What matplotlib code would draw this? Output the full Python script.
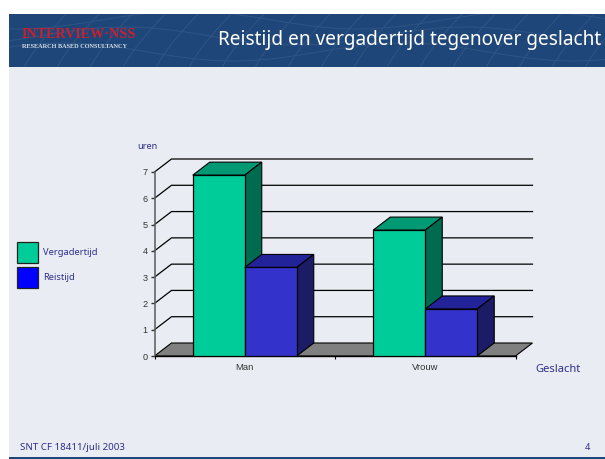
import numpy as np
import matplotlib
matplotlib.use("Agg")
import matplotlib.pyplot as plt
from matplotlib.patches import Rectangle, Polygon

categories = ["Man", "Vrouw"]
vergadertijd = [6.88, 4.79]
reistijd = [3.37, 1.79]
y_ticks = [0, 1, 2, 3, 4, 5, 6, 7]
legend_labels = ["Vergadertijd", "Reistijd"]
title = "Reistijd en vergadertijd tegenover geslacht"

W, H = 605, 459
FONT = "Noto Sans"
NAVY = "#2e2e8a"
HEADER = "#1f4678"
BODY = "#e9edf3"

fig = plt.figure(figsize=(W / 100, H / 100), dpi=100, facecolor="white")

# Slide background, in pixel coordinates
bg = fig.add_axes([0, 0, 1, 1])
bg.set_xlim(0, W)
bg.set_ylim(H, 0)
bg.axis("off")
bg.add_patch(Rectangle((9, 14), W - 9, H - 14, fc=BODY, ec="none"))
bg.add_patch(Rectangle((9, 14), W - 9, 53, fc=HEADER, ec="none"))
bg.add_patch(Rectangle((9, 457), W - 9, 2, fc=HEADER, ec="none"))

# Decorative net in the header
clip = Rectangle((9, 14), W - 9, 53, transform=bg.transData)
t = np.linspace(0, 1, 60)
for off in [20, 36, 52]:
    xs = 9 + t * (W - 9)
    ys = off + 9 * np.sin(t * 11 + off / 14)
    ln, = bg.plot(xs, ys, color="#2f5585", lw=0.7)
    ln.set_clip_path(clip)
for x0 in range(40, 640, 33):
    xs = x0 + 26 * (1 - t) - 26 * np.sin(t * 1.5) * 0.6
    ys = 14 + 53 * t
    ln, = bg.plot(xs, ys, color="#2f5585", lw=0.7)
    ln.set_clip_path(clip)

# Logo and texts
bg.text(22, 35, "INTERVIEW·NSS", color="#c8202f", fontsize=10.2, family="Liberation Serif",
        weight="bold", va="center", ha="left")
bg.text(22, 47, "RESEARCH BASED CONSULTANCY", color="#d8dfe8", fontsize=4.5,
        family="Liberation Serif", weight="bold", va="center", ha="left")
bg.text(601, 40, title, color="white", fontsize=13.7, family=FONT, va="center", ha="right")
bg.text(20, 447, "SNT CF 18411/juli 2003", color=NAVY, fontsize=7, family=FONT, va="center")
bg.text(590, 447, "4", color=NAVY, fontsize=6.6, family=FONT, va="center", ha="right")

# Legend
for (y, lab, col) in zip([242, 267], legend_labels, ["#00cc99", "#0000ff"]):
    bg.add_patch(Rectangle((17, y), 21, 20.5, fc=col, ec="#222222", lw=0.9))
    bg.text(43, y + 10.5, lab, color=NAVY, fontsize=6.7, family=FONT, va="center")

bg.text(137, 146.5, "uren", color=NAVY, fontsize=6.6, family=FONT, va="center")
bg.text(535, 369, "Geslacht", color=NAVY, fontsize=8, family=FONT, va="center")

# Chart: front plane of the 3D box
x0, x1, y0, y1 = 154.5, 515.5, 356, 172
ax = fig.add_axes([x0 / W, 1 - y0 / H, (x1 - x0) / W, (y0 - y1) / H])
ax.set_xlim(0, 2)
ax.set_ylim(0, 7)
ax.patch.set_alpha(0)
for s in ["top", "right"]:
    ax.spines[s].set_visible(False)
ax.spines["left"].set_color("#666666")
ax.spines["left"].set_linewidth(1.2)
ax.spines["bottom"].set_linewidth(1.0)
ax.spines["bottom"].set_color("black")

DX = 17 / (x1 - x0) * 2
DY = 13 / ((y0 - y1) / 7)

# Floor
ax.add_patch(Polygon([(0, 0), (DX, DY), (2 + DX, DY), (2, 0)], fc="#808080", ec="black",
                     lw=0.8, clip_on=False, zorder=1))
# Grid on back wall and left wall
for v in y_ticks[1:]:
    ax.plot([0, DX, 2 + DX], [v, v + DY, v + DY], color="black", lw=0.9, clip_on=False, zorder=1)

ax.set_yticks(y_ticks)
ax.set_xticks([0, 1, 2])
ax.set_xticklabels([])
ax.tick_params(axis="y", length=3, width=1, labelsize=6.6, colors="#333333", pad=2)
ax.tick_params(axis="x", length=2.5, width=0.8, direction="out")
for lab in ax.get_yticklabels():
    lab.set_family("Liberation Sans")

BW = 52 / (x1 - x0) * 2


def bar3d(left, value, front, top, side, z):
    ax.bar(left, value, BW, align="edge", color=front, edgecolor="black", lw=0.9, zorder=z + 0.2)
    ax.add_patch(Polygon([(left, value), (left + DX, value + DY), (left + BW + DX, value + DY),
                          (left + BW, value)], fc=top, ec="black", lw=0.8, zorder=z, clip_on=False))
    ax.add_patch(Polygon([(left + BW, 0), (left + BW + DX, DY), (left + BW + DX, value + DY),
                          (left + BW, value)], fc=side, ec="black", lw=0.8, zorder=z, clip_on=False))


for i, cat in enumerate(categories):
    c = i + 0.5
    bar3d(c - BW, vergadertijd[i], "#00cc99", "#009973", "#006b50", 3)
    bar3d(c, reistijd[i], "#3333cc", "#222299", "#1b1b66", 4)
    ax.text(c, -0.42, cat, ha="center", va="center", fontsize=6.8,
            family="Liberation Sans", color="#333333")

fig.savefig("out.png", dpi=100, facecolor="white")
